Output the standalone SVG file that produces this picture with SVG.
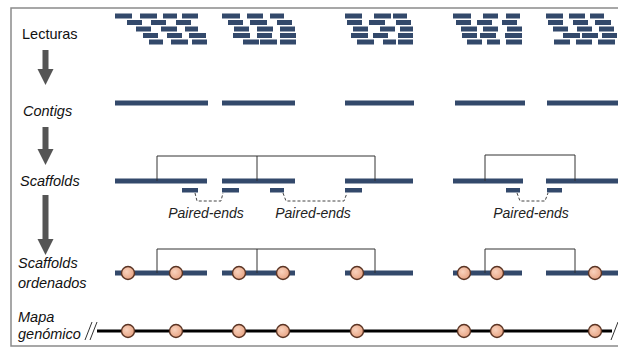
<svg xmlns="http://www.w3.org/2000/svg" width="618" height="348" viewBox="0 0 618 348">
<style>
.lbl{font-family:"Liberation Sans",Arial,sans-serif;font-size:14.5px;fill:#111}
.it{font-style:italic}
.pe{font-family:"Liberation Sans",Arial,sans-serif;font-size:14px;font-style:italic;fill:#222;text-anchor:middle}
.rd{fill:#33496b}
.r{fill:#33496b;height:5px}
.seg{stroke:#33496b;stroke-width:5;fill:none}
.br{stroke:#333;stroke-width:1;fill:none}
.dash{stroke:#444;stroke-width:1;fill:none;stroke-dasharray:3 2}
.arr{fill:#555}
.mk{fill:url(#gm);stroke:#5a3424;stroke-width:1.4}
</style>
<defs>
<radialGradient id="gm" cx="0.4" cy="0.4" r="0.6">
<stop offset="0" stop-color="#f9d2bd"/>
<stop offset="1" stop-color="#e8a585"/>
</radialGradient>
<g id="a"><circle r="6.5" class="mk"/></g>
</defs>
<rect x="11" y="8" width="620" height="338" fill="#fff" stroke="#8a8a8a" stroke-width="1.5"/>

<g id="labels">
<text class="lbl" x="22" y="39">Lecturas</text>
<text class="lbl it" x="23" y="116">Contigs</text>
<text class="lbl it" x="20" y="186">Scaffolds</text>
<text class="lbl it" x="18" y="268">Scaffolds</text>
<text class="lbl it" x="18" y="288">ordenados</text>
<text class="lbl it" x="18" y="322">Mapa</text>
<text class="lbl it" x="18" y="339">genómico</text>
</g>

<g id="arrows">
<path class="arr" d="M42.5,50 H48.5 V69 H53.5 L45.5,85 L37.5,69 H42.5 Z"/>
<path class="arr" d="M42.5,127 H48.5 V149 H53.5 L45.5,165 L37.5,149 H42.5 Z"/>
<path class="arr" d="M42.5,195 H48.5 V239 H53.5 L45.5,255 L37.5,239 H42.5 Z"/>
</g>

<g id="reads">
<!-- cluster 1 -->
<rect class="r" x="115" y="13.5" width="17" height="5"/><rect class="r" x="140" y="13.5" width="17" height="5"/><rect class="r" x="163" y="13.5" width="14" height="5"/><rect class="r" x="182" y="13.5" width="16" height="5"/>
<rect class="r" x="127" y="20" width="15" height="5"/><rect class="r" x="151" y="20" width="15" height="5"/><rect class="r" x="176" y="20" width="15" height="5"/>
<rect class="r" x="136" y="26.5" width="15" height="5"/><rect class="r" x="161" y="26.5" width="16" height="5"/><rect class="r" x="185" y="26.5" width="13" height="5"/>
<rect class="r" x="143" y="33" width="15" height="5"/><rect class="r" x="167" y="33" width="15" height="5"/><rect class="r" x="189" y="33" width="17" height="5"/>
<rect class="r" x="149" y="39.5" width="14" height="5"/><rect class="r" x="171" y="39.5" width="17" height="5"/><rect class="r" x="192" y="39.5" width="15" height="5"/>
<!-- cluster 2 -->
<rect class="r" x="222" y="13.5" width="18" height="5"/><rect class="r" x="247" y="13.5" width="16" height="5"/><rect class="r" x="270" y="13.5" width="14" height="5"/>
<rect class="r" x="228" y="20" width="15" height="5"/><rect class="r" x="250" y="20" width="17" height="5"/><rect class="r" x="277" y="20" width="15" height="5"/>
<rect class="r" x="234" y="26.5" width="15" height="5"/><rect class="r" x="257" y="26.5" width="16" height="5"/><rect class="r" x="280" y="26.5" width="15" height="5"/>
<rect class="r" x="233" y="33" width="17" height="5"/><rect class="r" x="257" y="33" width="15" height="5"/><rect class="r" x="280" y="33" width="16" height="5"/>
<rect class="r" x="243" y="39.5" width="16" height="5"/><rect class="r" x="260" y="39.5" width="17" height="5"/><rect class="r" x="280" y="39.5" width="16" height="5"/>
<!-- cluster 3 -->
<rect class="r" x="345" y="13.5" width="17" height="5"/><rect class="r" x="374" y="13.5" width="17" height="5"/><rect class="r" x="393" y="13.5" width="14" height="5"/>
<rect class="r" x="347" y="20" width="15" height="5"/><rect class="r" x="369" y="20" width="16" height="5"/><rect class="r" x="396" y="20" width="15" height="5"/>
<rect class="r" x="353" y="26.5" width="15" height="5"/><rect class="r" x="380" y="26.5" width="15" height="5"/><rect class="r" x="400" y="26.5" width="13" height="5"/>
<rect class="r" x="351" y="33" width="17" height="5"/><rect class="r" x="373" y="33" width="15" height="5"/><rect class="r" x="398" y="33" width="15" height="5"/>
<rect class="r" x="357" y="39.5" width="17" height="5"/><rect class="r" x="383" y="39.5" width="13" height="5"/><rect class="r" x="398" y="39.5" width="15" height="5"/>
<!-- cluster 4 -->
<rect class="r" x="453" y="13.5" width="18" height="5"/><rect class="r" x="483" y="13.5" width="15" height="5"/><rect class="r" x="506" y="13.5" width="14" height="5"/>
<rect class="r" x="456" y="20" width="15" height="5"/><rect class="r" x="477" y="20" width="15" height="5"/><rect class="r" x="502" y="20" width="15" height="5"/>
<rect class="r" x="461" y="26.5" width="16" height="5"/><rect class="r" x="483" y="26.5" width="15" height="5"/><rect class="r" x="507" y="26.5" width="15" height="5"/>
<rect class="r" x="462" y="33" width="15" height="5"/><rect class="r" x="480" y="33" width="16" height="5"/><rect class="r" x="505" y="33" width="17" height="5"/>
<rect class="r" x="467" y="39.5" width="15" height="5"/><rect class="r" x="487" y="39.5" width="13" height="5"/><rect class="r" x="506" y="39.5" width="16" height="5"/>
<!-- cluster 5 -->
<rect class="r" x="546" y="13.5" width="17" height="5"/><rect class="r" x="569" y="13.5" width="16" height="5"/><rect class="r" x="590" y="13.5" width="14" height="5"/>
<rect class="r" x="548" y="20" width="15" height="5"/><rect class="r" x="573" y="20" width="15" height="5"/><rect class="r" x="595" y="20" width="16" height="5"/>
<rect class="r" x="553" y="26.5" width="15" height="5"/><rect class="r" x="577" y="26.5" width="15" height="5"/><rect class="r" x="599" y="26.5" width="15" height="5"/>
<rect class="r" x="563" y="33" width="17" height="5"/><rect class="r" x="582" y="33" width="16" height="5"/><rect class="r" x="602" y="33" width="15" height="5"/>
<rect class="r" x="554" y="39.5" width="16" height="5"/><rect class="r" x="576" y="39.5" width="16" height="5"/><rect class="r" x="598" y="39.5" width="17" height="5"/>
</g>

<g id="contigs">
<path class="seg" d="M115,103H208 M222,103H295 M345,103H414 M455,103H525 M547,103H618"/>
</g>

<g id="scaffolds">
<path class="seg" d="M115,181H207 M222,181H295 M345,181H413 M453,181H523 M546,181H618"/>
<rect class="rd" x="182" y="188" width="16" height="4.5"/>
<rect class="rd" x="222" y="188" width="17" height="4.5"/>
<rect class="rd" x="270" y="188" width="14" height="4.5"/>
<rect class="rd" x="345" y="188" width="17" height="4.5"/>
<rect class="rd" x="506" y="188" width="14" height="4.5"/>
<rect class="rd" x="547" y="188" width="15" height="4.5"/>
<text class="pe" x="206" y="218">Paired-ends</text>
<text class="pe" x="313" y="218">Paired-ends</text>
<text class="pe" x="531" y="218">Paired-ends</text>
</g>

<g id="ordered">
<path class="seg" d="M115,273H207 M222,273H295 M345,273H413 M453,273H522 M546,273H618"/>
</g>

<g id="map">
<path d="M97,331H612" stroke="#000" stroke-width="3"/>
<path d="M85,340L92,322 M90,340L97,322 M611,340L618,322" stroke="#333" stroke-width="1"/>
</g>

<g id="connectors">
<path class="br" d="M157,181V156H375V181 M257,156V181 M485,181V155H575V181"/>
<path class="dash" d="M195,193L197,201H221L223,193 M283,193L286,201H344L347,193 M517,193L520,201H545L548,193"/>
<path class="br" d="M157,273V249H375V273 M257,249V273 M485,273V249H575V273"/>
</g>

<g id="markers">
<use href="#a" x="128" y="273"/><use href="#a" x="176" y="273"/><use href="#a" x="239" y="273"/><use href="#a" x="283" y="273"/>
<use href="#a" x="357" y="273"/><use href="#a" x="464" y="273"/><use href="#a" x="497" y="273"/><use href="#a" x="595" y="273"/>
<use href="#a" x="128" y="331"/><use href="#a" x="176" y="331"/><use href="#a" x="239" y="331"/><use href="#a" x="283" y="331"/>
<use href="#a" x="357" y="331"/><use href="#a" x="464" y="331"/><use href="#a" x="497" y="331"/><use href="#a" x="595" y="331"/>
</g>
</svg>
